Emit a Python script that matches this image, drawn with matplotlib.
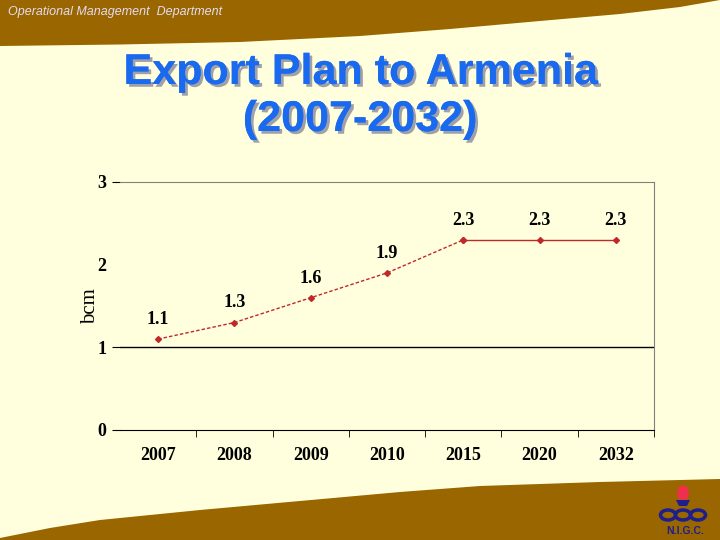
import matplotlib
matplotlib.use("Agg")
import matplotlib.pyplot as plt
import matplotlib.patheffects as pe
from matplotlib.patches import Polygon, Ellipse

years = ["2007", "2008", "2009", "2010", "2015", "2020", "2032"]
values = [1.1, 1.3, 1.6, 1.9, 2.3, 2.3, 2.3]
yticks = [0, 1, 2, 3]
title_lines = ["Export Plan to Armenia", "(2007-2032)"]
header = "Operational Management  Department"

BG = "#FFFFDD"
BROWN = "#996600"
RED = "#C0282A"
NAVY = "#1E1E8C"

fig = plt.figure(figsize=(7.2, 5.4), dpi=100, facecolor=BG)

# background decoration
bg = fig.add_axes([0, 0, 1, 1])
bg.set_xlim(0, 720)
bg.set_ylim(540, 0)
bg.axis("off")
top_edge = [(0, 46), (120, 44.5), (240, 42), (360, 36), (450, 29), (540, 21), (620, 14), (680, 7), (720, 0)]
bg.add_patch(Polygon([(0, 0)] + top_edge + [(720, 0)], closed=True, color=BROWN, lw=0))
bot_edge = [(0, 538), (50, 528), (100, 520), (200, 510), (300, 501), (400, 492), (480, 486), (600, 482), (720, 479)]
bg.add_patch(Polygon(bot_edge + [(720, 540), (0, 540)], closed=True, color=BROWN, lw=0))
bg.text(8, 12, header, fontsize=9, style="italic", color="#E4DCF0", va="center", ha="left",
        family="Liberation Sans")
# logo
bg.add_patch(Ellipse((683, 493), 12, 15, color="#F0304A", lw=0))
bg.add_patch(Polygon([(676, 500), (690, 500), (687, 506), (679, 506)], closed=True, color=NAVY, lw=0))
for cx in (668, 683, 698):
    bg.add_patch(Ellipse((cx, 515), 15, 10, fill=False, ec=NAVY, lw=2.5))
bg.text(685, 531, "N.I.G.C.", fontsize=7.5, fontweight="bold", color=NAVY, ha="center", va="center",
        family="Liberation Sans")

shadow = [pe.withSimplePatchShadow(offset=(2, -2), shadow_rgbFace="#A0A0A8", alpha=1), pe.Normal()]
for line, yb in zip(title_lines, (84, 131)):
    bg.text(360, yb, line, ha="center", va="baseline", fontsize=31, fontweight="bold",
            color="#1A6AF0", family="Liberation Sans", path_effects=shadow)

ax = fig.add_axes([120 / 720, 1 - 430 / 540, (654 - 120) / 720, (430 - 182) / 540])
ax.set_facecolor(BG)
x = list(range(len(years)))
ax.plot(x[:5], values[:5], color=RED, lw=1, ls=(0, (2.5, 1.5)), marker="D", ms=3, mec=RED, mfc=RED)
ax.plot(x[4:], values[4:], color=RED, lw=1, ls="-", marker="D", ms=3, mec=RED, mfc=RED)
for xi, v in zip(x, values):
    ax.annotate(f"{v:.1f}", (xi, v), xytext=(0, 8), textcoords="offset points", ha="center",
                va="bottom", fontsize=13, fontweight="bold", family="Liberation Serif")
ax.axhline(1, color="black", lw=1)
ax.set_xlim(-0.5, len(years) - 0.5)
ax.set_ylim(0, 3)
ax.set_yticks(yticks)
ax.set_yticklabels([str(t) for t in yticks], fontsize=13, fontweight="bold", family="Liberation Serif")
ax.set_xticks(x)
ax.set_xticklabels(years, fontsize=13, fontweight="bold", family="Liberation Serif")
ax.set_xticks([i + 0.5 for i in x], minor=True)
ax.tick_params(axis="x", which="major", length=0, pad=12)
ax.tick_params(axis="x", which="minor", length=5, direction="out", color="black")
ax.tick_params(axis="y", length=6, direction="out", color="black", pad=4)
ax.yaxis.get_major_ticks()[2].tick1line.set_visible(False)
ax.spines["left"].set_visible(False)
ax.spines["top"].set_color("#808080")
ax.spines["right"].set_color("#808080")
ax.spines["bottom"].set_color("black")
ax.set_ylabel("bcm", fontsize=15, family="Liberation Serif", labelpad=-2)

fig.savefig("out.png", dpi=100, facecolor=BG)
